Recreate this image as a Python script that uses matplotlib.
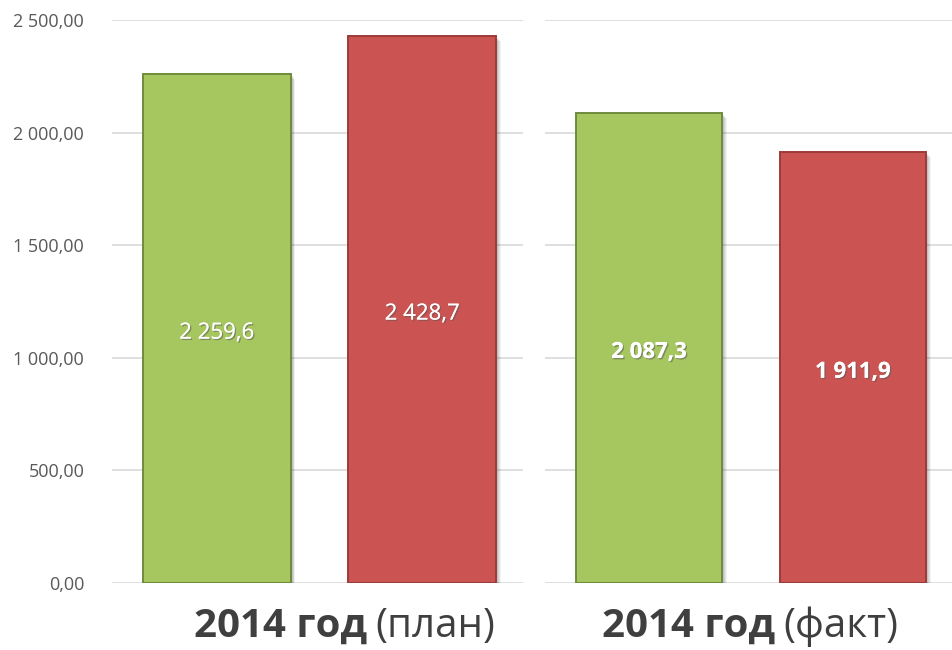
import matplotlib.pyplot as plt
import matplotlib.patheffects as pe

# data
groups = ['план', 'факт']
series_colors = ['#A6C660', '#CB5452']
edge_colors = ['#6E8B3D', '#9C3B39']
plan_values = [2259.6, 2428.7]
fact_values = [2087.3, 1911.9]
yticks = [0, 500, 1000, 1500, 2000, 2500]

plt.rcParams['font.family'] = ['Open Sans', 'DejaVu Sans']


def fmt_num(v, decimals):
    s = f'{v:,.{decimals}f}'
    return s.replace(',', ' ').replace('.', ',')


fig = plt.figure(figsize=(9.53, 6.5), dpi=100)
ax1 = fig.add_axes([0.1175, 0.1031, 0.4313, 0.8661])
ax2 = fig.add_axes([0.5719, 0.1031, 0.4281, 0.8661])

for ax, vals, group, bold in [(ax1, plan_values, groups[0], False),
                              (ax2, fact_values, groups[1], True)]:
    xs = range(len(vals))
    # soft shadow
    for k, a in [(5, 0.05), (4, 0.06), (3, 0.07), (2, 0.08)]:
        ax.bar([x + k * 0.0045 + 0.01 for x in xs], vals, width=0.72,
               bottom=[-k * 4.4] * len(vals), color='black', alpha=a,
               zorder=2, linewidth=0)
    bars = ax.bar([x + 0.01 for x in xs], vals, width=0.72, color=series_colors,
                  edgecolor=edge_colors, linewidth=1.4, zorder=3)
    for b, v in zip(bars, vals):
        ax.text(b.get_x() + b.get_width() / 2, v / 2 - 20, fmt_num(v, 1),
                ha='center', va='center', color='white', fontsize=16,
                fontweight='bold' if bold else 'normal', zorder=4,
                path_effects=[pe.withSimplePatchShadow(offset=(1, -1),
                                                       shadow_rgbFace='#555555',
                                                       alpha=0.5),
                              pe.Normal()])
    ax.set_xlim(-0.5, 1.5)
    ax.set_ylim(0, 2500)
    ax.set_yticks(yticks)
    ax.grid(axis='y', color='#D9D9D9', linewidth=1.2, zorder=0)
    ax.set_axisbelow(True)
    ax.set_xticks([])
    for sp in ax.spines.values():
        sp.set_visible(False)
    ax.tick_params(axis='y', length=0, labelsize=13, colors='#595959', pad=20)

ax1.set_yticklabels([fmt_num(t, 2) for t in yticks])
ax2.set_yticklabels([])

# group labels under the axes
for ax, group, split in [(ax1, groups[0], 367 / 953), (ax2, groups[1], 775 / 953)]:
    fig.text(split, 0.036, '2014 год', ha='right', va='center', fontsize=29,
             fontweight='bold', color='#3F3F3F')
    fig.text(split + 8 / 953, 0.036, f'({group})', ha='left', va='center',
             fontsize=29, color='#3F3F3F')

fig.savefig('out.png', dpi=100)
